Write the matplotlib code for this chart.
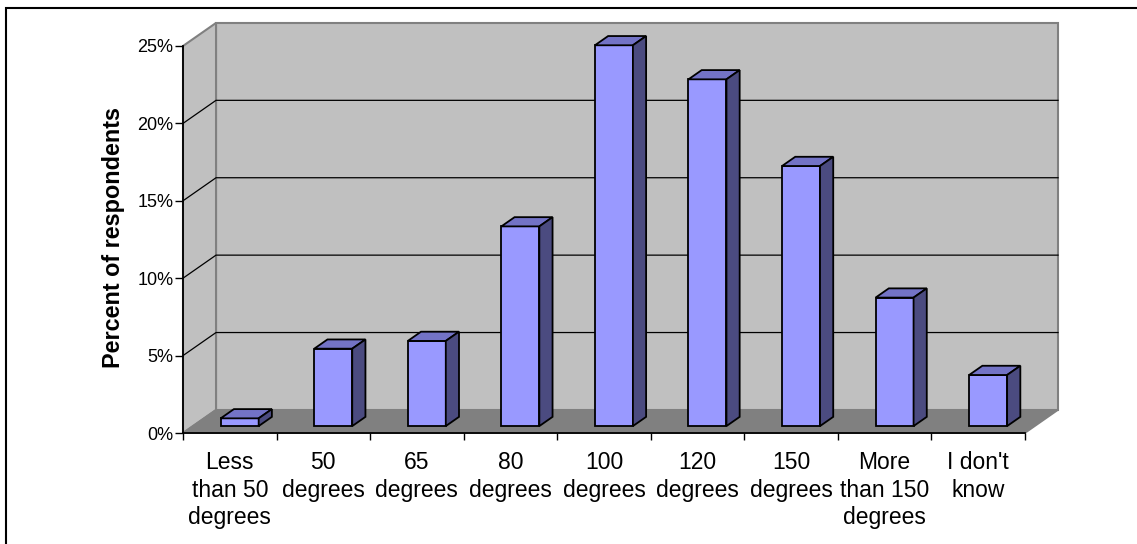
import matplotlib.pyplot as plt
from matplotlib.patches import Polygon, Rectangle

plt.rcParams['font.family'] = ['Liberation Sans', 'DejaVu Sans']

# data
categories = ["Less\nthan 50\ndegrees", "50\ndegrees", "65\ndegrees", "80\ndegrees",
              "100\ndegrees", "120\ndegrees", "150\ndegrees",
              "More\nthan 150\ndegrees", "I don't\nknow"]
percent = [0.5, 5.0, 5.5, 12.9, 24.6, 22.4, 16.8, 8.3, 3.3]
yticks = [0, 5, 10, 15, 20, 25]

# 3d look: depth offset of the back wall, in data units
DX, DY = 0.353, 1.49
ymax = 25
n = len(categories)

fig = plt.figure(figsize=(11.37, 5.44), dpi=100)
ax = fig.add_axes([183 / 1137, 111 / 544, 842 / 1137, 387 / 544])
ax.set_xlim(0, n)
ax.set_ylim(0, ymax)
ax.patch.set_visible(False)

wall = '#C0C0C0'
edge = '#808080'


def poly(pts, fc, ec, lw=1.2, z=1):
    ax.add_patch(Polygon(pts, closed=True, fc=fc, ec=ec, lw=lw, clip_on=False, zorder=z))


# back wall, side wall, floor
poly([(DX, DY), (n + DX, DY), (n + DX, ymax + DY), (DX, ymax + DY)], wall, edge, 1.5, 0)
poly([(0, 0), (DX, DY), (DX, ymax + DY), (0, ymax)], wall, edge, 1.5, 0)
poly([(0, 0), (n, 0), (n + DX, DY), (DX, DY)], '#808080', edge, 1.2, 0.5)

# gridlines on both walls
for v in yticks[1:-1]:
    ax.plot([0, DX, n + DX], [v, v + DY, v + DY], color='black', lw=0.9,
            clip_on=False, zorder=0.8)

# bars
w = 0.406
f0, f1 = 0.3, 0.7
front = '#9999FF'
top = '#7373C6'
side = '#4B4B80'
for i, v in enumerate(percent):
    x0 = i + 0.5 - w / 2 + f0 * DX
    y0 = f0 * DY
    ddx, ddy = (f1 - f0) * DX, (f1 - f0) * DY
    poly([(x0, y0), (x0 + w, y0), (x0 + w, y0 + v), (x0, y0 + v)], front, 'black', 1.3, 3)
    poly([(x0, y0 + v), (x0 + w, y0 + v), (x0 + w + ddx, y0 + v + ddy), (x0 + ddx, y0 + v + ddy)],
         top, 'black', 1.3, 3)
    poly([(x0 + w, y0), (x0 + w + ddx, y0 + ddy), (x0 + w + ddx, y0 + v + ddy), (x0 + w, y0 + v)],
         side, 'black', 1.3, 3)

# axes
for s in ['top', 'right']:
    ax.spines[s].set_visible(False)
ax.spines['left'].set_linewidth(1.3)
ax.spines['bottom'].set_linewidth(1.3)
ax.spines['left'].set_zorder(4)
ax.spines['bottom'].set_zorder(4)

ax.set_yticks(yticks)
ax.set_yticklabels([f"{v}%" for v in yticks])
ax.tick_params(axis='y', length=6, width=1, labelsize=13, pad=1)

ax.set_xticks([i + 0.5 for i in range(n)])
ax.set_xticklabels(categories, fontsize=16.5, linespacing=1.25)
ax.set_xticks(range(n + 1), minor=True)
ax.tick_params(axis='x', which='major', length=0, pad=13)
ax.tick_params(axis='x', which='minor', length=5, width=1)

ax.text(-0.082, 0.506, 'Percent of respondents', transform=ax.transAxes,
        rotation=90, ha='center', va='center', fontsize=16.8, fontweight='bold')

# outer frame
fig.add_artist(Rectangle((6 / 1137, -0.1), 1.2, 1.1 - 8 / 544, transform=fig.transFigure,
                         fill=False, ec='black', lw=1.5))

fig.savefig('out.png', dpi=100)
